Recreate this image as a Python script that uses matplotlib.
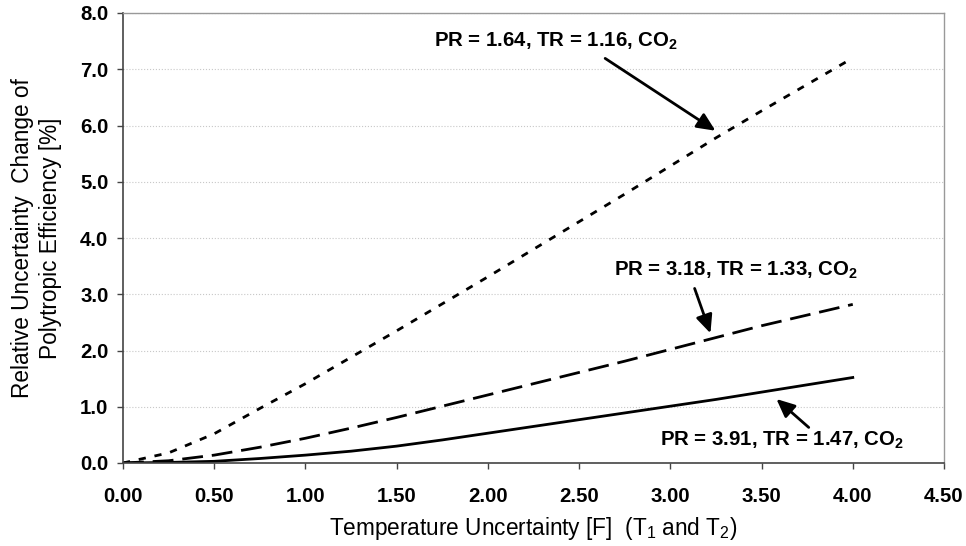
import matplotlib
matplotlib.use("Agg")
import matplotlib.pyplot as plt
import numpy as np

plt.rcParams['font.family'] = ['Liberation Sans', 'DejaVu Sans']
plt.rcParams['mathtext.fontset'] = 'custom'
plt.rcParams['mathtext.rm'] = 'Liberation Sans'
plt.rcParams['mathtext.bf'] = 'Liberation Sans:bold'

x_vals = [0.0, 0.25, 0.5, 0.75, 1.0, 1.25, 1.5, 1.75, 2.0, 2.25, 2.5, 2.75, 3.0, 3.25, 3.5, 3.75, 4.0]
pr164 = [0.0, 0.18, 0.52, 0.97, 1.41, 1.88, 2.35, 2.83, 3.31, 3.80, 4.29, 4.78, 5.28, 5.78, 6.26, 6.73, 7.20]
pr318 = [0.0, 0.04, 0.14, 0.28, 0.44, 0.62, 0.81, 1.01, 1.21, 1.41, 1.61, 1.81, 2.02, 2.23, 2.44, 2.63, 2.82]
pr391 = [0.0, 0.01, 0.03, 0.08, 0.14, 0.21, 0.30, 0.41, 0.53, 0.65, 0.77, 0.89, 1.01, 1.13, 1.26, 1.39, 1.52]

labels = ["PR = 1.64, TR = 1.16, CO$_\\mathbf{2}$",
          "PR = 3.18, TR = 1.33, CO$_\\mathbf{2}$",
          "PR = 3.91, TR = 1.47, CO$_\\mathbf{2}$"]

x_ticks = [0.0, 0.5, 1.0, 1.5, 2.0, 2.5, 3.0, 3.5, 4.0, 4.5]
y_ticks = [0, 1, 2, 3, 4, 5, 6, 7, 8]

fig = plt.figure(figsize=(9.66, 5.46), dpi=100)
ax = fig.add_axes([123/966, 1-463/546, (944-123)/966, (463-13)/546])

ax.plot(x_vals, pr164, color='black', lw=2.0, linestyle=(0, (2.6, 3.2)))
ax.plot(x_vals, pr318, color='black', lw=2.0, linestyle=(0, (7.5, 3.2)))
ax.plot(x_vals, pr391, color='black', lw=2.0, linestyle='-')

ax.set_xlim(0, 4.5)
ax.set_ylim(0, 8)
ax.set_xticks(x_ticks)
ax.set_yticks(y_ticks)
ax.set_xticklabels([f"{v:.2f}" for v in x_ticks], fontsize=14.7, fontweight='bold')
ax.set_yticklabels([f"{v:.1f}" for v in y_ticks], fontsize=14.7, fontweight='bold')
ax.tick_params(axis='x', direction='out', length=4.5, width=1, color='#444444', pad=13)
ax.tick_params(axis='y', direction='out', length=4.5, width=1, color='#444444', pad=6)
ax.yaxis.grid(True, color='#c8c8c8', lw=0.8, linestyle=':')
ax.set_axisbelow(True)
for side in ['left', 'bottom']:
    ax.spines[side].set_color('#444444')
    ax.spines[side].set_linewidth(1.2)
for side in ['top', 'right']:
    ax.spines[side].set_color('#999999')
    ax.spines[side].set_linewidth(1.0)

fig.text(533.5/966, 1-529/546, "Temperature Uncertainty [F]  (T$_1$ and T$_2$)",
         fontsize=16.3, ha='center', va='center')
fig.text(36.5/966, 1-238/546, "Relative Uncertainty  Change of\nPolytropic Efficiency [%]",
         fontsize=16.3, ha='center', va='center', rotation=90, multialignment='center',
         linespacing=1.3)

arrow_kw = dict(arrowstyle='-|>,head_length=1.1,head_width=0.5', color='black', lw=2)
ax.annotate("", xy=(3.26, 5.88), xytext=(2.63, 7.22), arrowprops=arrow_kw)
ax.text(2.375, 7.50, labels[0], ha='center', va='center', fontsize=14.7, fontweight='bold')
ax.annotate("", xy=(3.225, 2.26), xytext=(3.128, 3.15), arrowprops=arrow_kw)
ax.text(3.36, 3.42, labels[1], ha='center', va='center', fontsize=14.7, fontweight='bold')
ax.annotate("", xy=(3.57, 1.17), xytext=(3.77, 0.60), arrowprops=arrow_kw)
ax.text(3.61, 0.40, labels[2], ha='center', va='center', fontsize=14.7, fontweight='bold')

fig.savefig("out.png", dpi=100)
